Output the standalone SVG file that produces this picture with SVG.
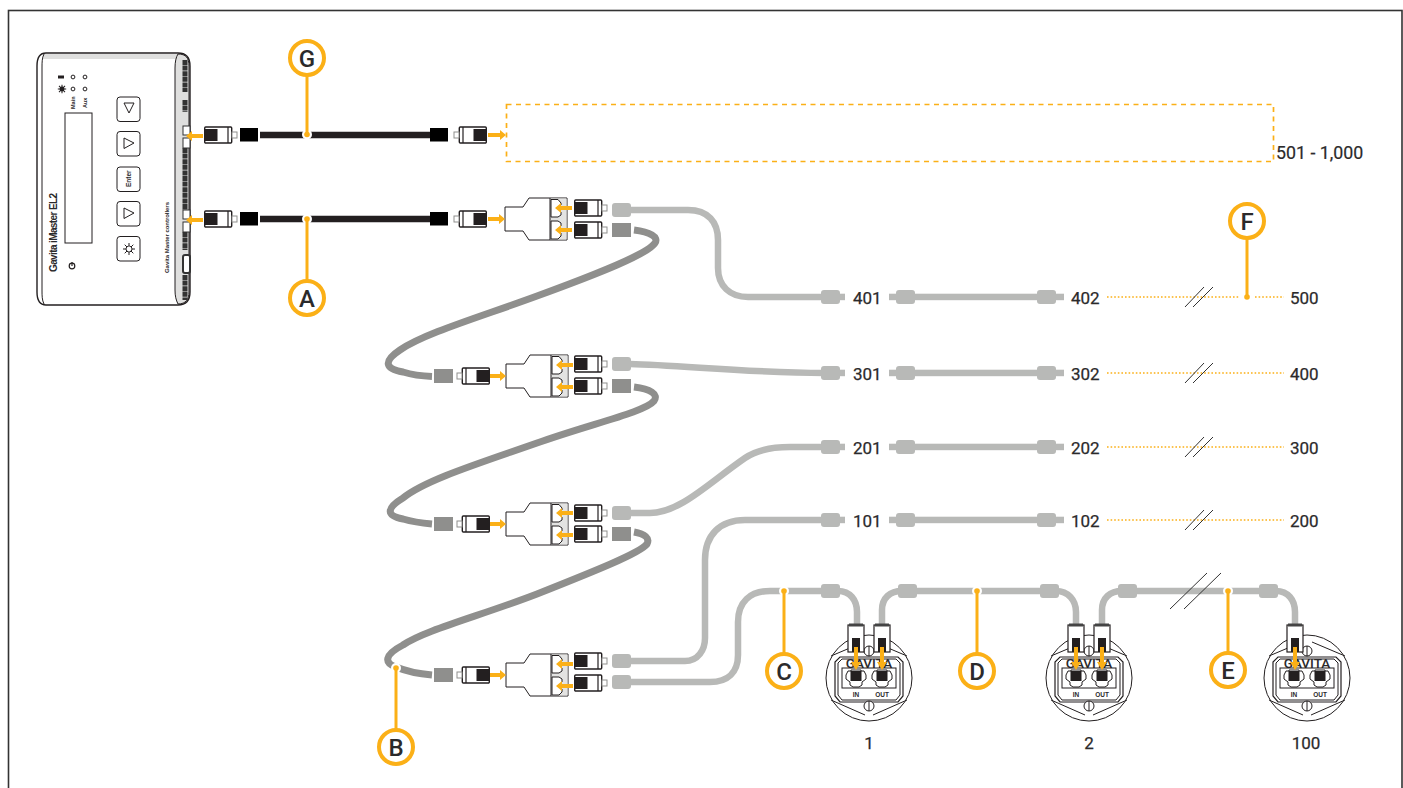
<svg xmlns="http://www.w3.org/2000/svg" width="1403" height="788" viewBox="0 0 1403 788">
<style>
text{font-family:"Roboto","Liberation Sans",sans-serif;fill:#2b2a2b}
.lbl{font-size:17px;font-weight:400;stroke:#2b2a2b;stroke-width:.25}
.num{font-size:17px;font-weight:400;text-anchor:middle;stroke:#2b2a2b;stroke-width:.25}
.co{font-size:24px;font-weight:500;text-anchor:middle}
.cab{fill:none;stroke-linecap:butt;stroke-width:6.5}
.lt{stroke:#b8b9b7}.dk{stroke:#8f8f8d;stroke-width:7}.bk{stroke:#231f20}
.or{fill:none;stroke:#fbb017;stroke-width:3}
.dot{fill:none;stroke:#fbb017;stroke-width:1.6;stroke-dasharray:1.6 2}
.sl{stroke:#333;stroke-width:1;fill:none}
.ring{fill:#fff;stroke:#fbb017;stroke-width:4}
.ln{fill:none;stroke:#231f20;stroke-width:1}
.ctl{font-family:"Liberation Sans",sans-serif;font-weight:700}
</style>
<defs>
<g id="arr"><path d="M0,-2H-11V-5L-17,0L-11,5V2H0Z" fill="#fbb017"/></g>
<g id="plug">
<rect x="0.7" y="-8" width="27" height="16" rx="1" fill="#fff" stroke="#231f20" stroke-width="1.400"/>
<rect x="1" y="-6" width="12.500" height="12" fill="#231f20"/>
<path d="M24,-8V8" stroke="#231f20" stroke-width="1.200"/>
<rect x="28" y="-3" width="5" height="6" fill="#fff" stroke="#8f8f8d"/>
</g>
<g id="splitter">
<path d="M0,-12H18L24,-21H62V21H24L18,12H0Z" fill="#fff" stroke="#231f20" stroke-width="1"/>
<rect x="45" y="-20.500" width="16.500" height="41" fill="#e3e3e2"/>
<path d="M45,-21V21" stroke="#231f20" stroke-width="1"/>
<path d="M46,-19.500H53L56,-16V-14L52,-11L56,-7V-4L53,-2H46Z" fill="#fff" stroke="#231f20"/>
<path d="M46,2H53L56,4V7L52,11L56,14V17L53,20H46Z" fill="#fff" stroke="#231f20"/>
<use href="#arr" x="67" y="-11"/><use href="#arr" x="67" y="11"/>
<path d="M-17,-2H-6V-5L0,0L-6,5V2H-17Z" fill="#fbb017"/>
</g>
<g id="jack"><path d="M-8,-8H-5V-9H5V-8H8L10,-4V0L6,3V6L3,8H-3L-6,6V3L-10,0V-4Z" fill="#fff" stroke="#231f20"/><rect x="-5.500" y="-8" width="11" height="10" fill="#231f20"/></g>
<g id="screw"><circle r="5" fill="#fff" stroke="#231f20"/><path d="M0,-5V5" stroke="#231f20"/></g>
<g id="lamp">
<circle r="43" fill="#fff" stroke="#231f20"/>
<path class="ln" d="M-38,-22L-5,-36M5,-36L38,-22M-38,22L-4,37M4,37L38,22"/>
<path d="M-29,-21H29L34,-16V18L29,24H-29L-34,18V-16Z" fill="#fff" stroke="#231f20" stroke-width="1.200"/>
<path class="ln" d="M-27,-19H27L31,-15V17L27,22H-27L-31,17V-15Z"/>
<text y="-10" text-anchor="middle" style="font-size:13.500px;font-weight:500">GAVITA</text>
<rect x="-27" y="-10" width="54" height="20" fill="#fff" stroke="#231f20"/>
<use href="#jack" x="-13" y="1"/><use href="#jack" x="13" y="1"/>
<text x="-13" y="19" text-anchor="middle" class="ctl" style="font-size:6.500px">IN</text>
<text x="13" y="19" text-anchor="middle" class="ctl" style="font-size:6.500px">OUT</text>
<use href="#screw" y="28"/>
</g>
<g id="dplug">
<rect x="-8" y="0" width="16" height="27" fill="#fff" stroke="#231f20" stroke-width="1.200"/>
<rect x="-7" y="-1.500" width="14" height="3" fill="#444"/>
<rect x="-4" y="13" width="8" height="14" fill="#231f20"/>
<path d="M-2,22V37H-5L0,45L5,37H2V22Z" fill="#fbb017"/>
</g>
<g id="blk"><rect x="0" y="-7" width="19" height="14" rx="3" fill="#b8b9b7"/></g>
<g id="dkb"><rect x="0" y="-7" width="19" height="14" fill="#8f8f8d"/></g>
<g id="stubs"><rect x="0" y="-3.300" width="26" height="6.500" fill="#b8b9b7"/></g>
<g id="sun"><circle r="3" fill="none" stroke="#231f20"/><path d="M-6,0H6M0,-6V6M-4.300,-4.300L4.300,4.300M-4.300,4.300L4.300,-4.300" stroke="#231f20"/><circle r="2.400" fill="#fff"/></g>
<g id="led"><circle r="1.900" fill="#fff" stroke="#231f20"/></g>
<g id="btn"><rect x="117" y="0" width="23" height="24.500" rx="3" fill="#fff" stroke="#231f20"/></g>
</defs>
<rect id="frame" x="8.500" y="10.500" width="1393.500" height="790" fill="#fff" stroke="#333" stroke-width="1.600"/>

<g id="connectors">
<path class="cab bk" d="M260,135H430"/>
<path class="cab bk" d="M260,219H430"/>
<path class="cab lt" d="M630,210H688C708,210 718,222 718,240V268C718,286 730,297 748,297H824"/>
<path class="cab lt" d="M630,364C680,365 750,373 824,373"/>
<path class="cab lt" d="M630,513H650C680,513 710,482 745,458C755,451 770,447 790,447H824"/>
<path class="cab lt" d="M630,661H685C698,661 705,650 705,638V560C705,535 720,520 745,520H824"/>
<path class="cab lt" d="M630,682H710C728,682 738,672 738,655V622C738,602 750,591 770,591H838C850,591 857,600 857,612V625"/>
<path class="cab lt" d="M882,625V610C882,598 890,591 902,591H1056C1068,591 1076,600 1076,612V625"/>
<path class="cab lt" d="M1102,625V610C1102,598 1110,591 1122,591H1276C1288,591 1295,600 1295,612V625"/>
<path class="cab dk" d="M634,230C650,232 659,237 655,243C648,254 600,273 537,296C480,317 425,333 400,350C382,362 386,369 403,372C413,375 420,376 432,376.500"/>
<path class="cab dk" d="M634,387C650,389 659,394 654,401C645,412 590,424 537,443C480,463 425,480 403,498C385,509 387,516 403,519C413,522 420,523 432,524"/>
<path class="cab dk" d="M634,532C645,534 650,538 647,544C640,553 595,571 537,594C480,616 425,630 403,645C384,655 384,663 396,667C408,672 420,674 432,675"/>
<path class="dot" d="M1107,297H1240M1255,297H1284M1107,373H1284M1107,447H1284M1107,520H1284"/>
<path class="sl" d="M1185,307L1204,287M1193,307L1213,287M1185,383L1204,363M1193,383L1213,363M1185,457L1204,437M1193,457L1213,437M1185,530L1204,510M1193,530L1213,510M1170,609L1207,573M1184,609L1221,573"/>
</g>

<g id="controller">
<path d="M46,53H178C186,53 190,58 190,66V292C190,300 186,305 178,305H46C40,305 37,300 37,292V66C37,58 40,53 46,53Z" fill="#fff" stroke="#231f20" stroke-width="1.400"/>
<path d="M44,54H178C177,56 176,57 176,59H43Z" fill="#dfdfde"/>
<path d="M178,54C186,54 189,58 189,66V292C189,299 186,304 178,304C176,300 175,296 175,290V68C175,62 176,57 178,54Z" fill="#dfdfde" stroke="#231f20"/>
<path class="ln" d="M44,54C42,58 42,62 42,68V290C42,296 42,300 44,304"/>
<path d="M185,148V210M185,60V92M185,100V112M185,232V250M185,275V300" stroke="#333" stroke-width="5" stroke-dasharray="5 .6" fill="none"/>
<rect x="183" y="126" width="7" height="9" fill="#fff" stroke="#333"/><rect x="183" y="138" width="7" height="10" fill="#fff" stroke="#333"/>
<rect x="183" y="210" width="7" height="9" fill="#fff" stroke="#333"/><rect x="183" y="222" width="7" height="10" fill="#fff" stroke="#333"/>
<rect x="183" y="255" width="7" height="18" rx="2" fill="#fff" stroke="#333" stroke-width="2"/>
<rect x="65" y="113" width="27" height="130" fill="#fff" stroke="#231f20"/>
<use href="#led" x="73" y="77"/><use href="#led" x="85" y="77"/><use href="#led" x="73" y="89"/><use href="#led" x="85" y="89"/>
<path d="M58,77H64" stroke="#231f20" stroke-width="3"/><g transform="translate(62,89) scale(.7)"><circle r="3.500" fill="#231f20"/><path d="M-6,0H6M0,-6V6M-4.300,-4.300L4.300,4.300M-4.300,4.300L4.300,-4.300" stroke="#231f20" stroke-width="1.500"/></g>
<text class="ctl" transform="translate(75,109) rotate(-90)" style="font-size:5.500px">Main</text>
<text class="ctl" transform="translate(87,108) rotate(-90)" style="font-size:5.500px">Aux</text>
<text class="ctl" transform="translate(57,272) rotate(-90)" textLength="79" style="font-size:10px">Gavita iMaster EL2</text>
<text class="ctl" transform="translate(169,273) rotate(-90)" textLength="71" style="font-size:6px">Gavita Master controllers</text>
<circle cx="72" cy="266" r="2.800" fill="none" stroke="#231f20" stroke-width="1.200"/><path d="M72,262V266" stroke="#231f20" stroke-width="1.200"/>
<use href="#btn" y="97"/><use href="#btn" y="131.500"/><use href="#btn" y="167"/><use href="#btn" y="201.500"/><use href="#btn" y="236.500"/>
<path class="ln" d="M124,103H134L129,113ZM124,138V148.500L134,143ZM124,208V218.500L134,213Z"/>
<text class="ctl" transform="translate(131,187) rotate(-90)" style="font-size:6.500px">Enter</text>
<use href="#sun" x="129" y="249"/>
<use href="#arr" x="203" y="136"/><use href="#arr" x="203" y="220"/>
</g>

<g id="link-top">
<use href="#plug" x="204" y="135"/><rect x="240" y="128" width="18" height="13.500" fill="#000"/>
<rect x="430" y="128" width="18" height="13.500" fill="#000"/><use href="#plug" transform="translate(487,135) scale(-1,1)"/>
<path d="M488,133H500V130L506,135L500,140V137H488Z" fill="#fbb017"/>
</g>
<g id="link-a">
<use href="#plug" x="204" y="219"/><rect x="240" y="212" width="18" height="13.500" fill="#000"/>
<rect x="430" y="212" width="18" height="13.500" fill="#000"/><use href="#plug" transform="translate(487,219) scale(-1,1)"/>
</g>
<rect id="zone-501" x="506.500" y="104.500" width="767" height="57" fill="none" stroke="#fbb017" stroke-width="1.700" stroke-dasharray="5 4.500"/>
<text id="lbl-501" x="1276" y="159" style="font-size:17.800px;stroke:#2b2a2b;stroke-width:.2">501 - 1,000</text>

<g id="splitter-1">
<use href="#splitter" x="505" y="219"/>
<use href="#plug" x="574" y="208"/><use href="#plug" x="574" y="230"/>
<use href="#blk" x="612" y="210"/><use href="#dkb" x="612" y="230"/>
</g>
<g id="splitter-2">
<use href="#splitter" x="506" y="376"/>
<use href="#plug" transform="translate(490,376) scale(-1,1)"/><use href="#dkb" x="434" y="376"/>
<use href="#plug" x="574" y="364"/><use href="#plug" x="574" y="386"/>
<use href="#blk" x="612" y="364"/><use href="#dkb" x="612" y="386"/>
</g>
<g id="splitter-3">
<use href="#splitter" x="506" y="524"/>
<use href="#plug" transform="translate(490,524) scale(-1,1)"/><use href="#dkb" x="434" y="524"/>
<use href="#plug" x="574" y="513"/><use href="#plug" x="574" y="534"/>
<use href="#blk" x="612" y="513"/><use href="#dkb" x="612" y="534"/>
</g>
<g id="splitter-4">
<use href="#splitter" x="506" y="675"/>
<use href="#plug" transform="translate(490,675) scale(-1,1)"/><use href="#dkb" x="434" y="675"/>
<use href="#plug" x="574" y="661"/><use href="#plug" x="574" y="683"/>
<use href="#blk" x="612" y="661"/><use href="#blk" x="612" y="682"/>
</g>

<g id="row-400s">
<use href="#blk" x="821" y="297"/><rect x="838" y="293.700" width="7" height="6.500" fill="#b8b9b7"/><text class="lbl" x="853" y="304">401</text>
<use href="#stubs" x="889" y="297"/><use href="#blk" x="896" y="297"/><rect x="910" y="293.700" width="130" height="6.500" fill="#b8b9b7"/><use href="#blk" x="1037" y="297"/><rect x="1050" y="293.700" width="14" height="6.500" fill="#b8b9b7"/><text class="lbl" x="1071" y="304">402</text>
<text class="lbl" x="1290" y="304">500</text>
</g>
<g id="row-300s">
<use href="#blk" x="821" y="373"/><rect x="838" y="369.700" width="7" height="6.500" fill="#b8b9b7"/><text class="lbl" x="853" y="380">301</text>
<use href="#stubs" x="889" y="373"/><use href="#blk" x="896" y="373"/><rect x="910" y="369.700" width="130" height="6.500" fill="#b8b9b7"/><use href="#blk" x="1037" y="373"/><rect x="1050" y="369.700" width="14" height="6.500" fill="#b8b9b7"/><text class="lbl" x="1071" y="380">302</text>
<text class="lbl" x="1290" y="380">400</text>
</g>
<g id="row-200s">
<use href="#blk" x="821" y="447"/><rect x="838" y="443.700" width="7" height="6.500" fill="#b8b9b7"/><text class="lbl" x="853" y="454">201</text>
<use href="#stubs" x="889" y="447"/><use href="#blk" x="896" y="447"/><rect x="910" y="443.700" width="130" height="6.500" fill="#b8b9b7"/><use href="#blk" x="1037" y="447"/><rect x="1050" y="443.700" width="14" height="6.500" fill="#b8b9b7"/><text class="lbl" x="1071" y="454">202</text>
<text class="lbl" x="1290" y="454">300</text>
</g>
<g id="row-100s">
<use href="#blk" x="821" y="520"/><rect x="838" y="516.700" width="7" height="6.500" fill="#b8b9b7"/><text class="lbl" x="853" y="527">101</text>
<use href="#stubs" x="889" y="520"/><use href="#blk" x="896" y="520"/><rect x="910" y="516.700" width="130" height="6.500" fill="#b8b9b7"/><use href="#blk" x="1037" y="520"/><rect x="1050" y="516.700" width="14" height="6.500" fill="#b8b9b7"/><text class="lbl" x="1071" y="527">102</text>
<text class="lbl" x="1290" y="527">200</text>
</g>

<g id="lamp-1">
<use href="#lamp" x="869" y="678"/>
<use href="#screw" x="869" y="651"/>
<use href="#blk" x="821" y="591"/><use href="#blk" x="898" y="591"/>
<use href="#dplug" x="856" y="625"/><use href="#dplug" x="882" y="625"/>
<text class="num" x="869" y="749">1</text>
</g>
<g id="lamp-2">
<use href="#lamp" x="1089" y="678"/>
<use href="#screw" x="1089" y="651"/>
<use href="#blk" x="1040" y="591"/><use href="#blk" x="1118" y="591"/>
<use href="#dplug" x="1076" y="625"/><use href="#dplug" x="1102" y="625"/>
<text class="num" x="1089" y="749">2</text>
</g>
<g id="lamp-100">
<use href="#lamp" x="1307" y="678"/>
<use href="#screw" x="1307" y="651"/>
<use href="#blk" x="1259" y="591"/>
<use href="#dplug" x="1295" y="625"/>
<text class="num" x="1306" y="749">100</text>
</g>

<g id="callout-g"><circle cx="307" cy="134.500" r="5" fill="#fff"/><path class="or" d="M307,76V134"/><circle cx="307" cy="134.500" r="2.800" fill="#fbb017"/><circle class="ring" cx="307" cy="58" r="17"/><text class="co" x="307" y="66.500">G</text></g>
<g id="callout-a"><circle cx="307" cy="219" r="5" fill="#fff"/><path class="or" d="M307,280V219"/><circle cx="307" cy="219" r="2.800" fill="#fbb017"/><circle class="ring" cx="307" cy="298" r="17"/><text class="co" x="307" y="306.500">A</text></g>
<g id="callout-b"><circle cx="396" cy="668" r="5" fill="#fff"/><path class="or" d="M396,729V668"/><circle cx="396" cy="668" r="2.800" fill="#fbb017"/><circle class="ring" cx="396" cy="747" r="17"/><text class="co" x="396" y="755.500">B</text></g>
<g id="callout-c"><circle cx="784" cy="591" r="5" fill="#fff"/><path class="or" d="M784,653V591"/><circle cx="784" cy="591" r="2.800" fill="#fbb017"/><circle class="ring" cx="784" cy="671" r="17"/><text class="co" x="784" y="679.500">C</text></g>
<g id="callout-d"><circle cx="977" cy="591" r="5" fill="#fff"/><path class="or" d="M977,653V591"/><circle cx="977" cy="591" r="2.800" fill="#fbb017"/><circle class="ring" cx="977" cy="671" r="17"/><text class="co" x="977" y="679.500">D</text></g>
<g id="callout-e"><circle cx="1228" cy="591" r="5" fill="#fff"/><path class="or" d="M1228,652V591"/><circle cx="1228" cy="591" r="2.800" fill="#fbb017"/><circle class="ring" cx="1228" cy="670" r="17"/><text class="co" x="1228" y="678.500">E</text></g>
<g id="callout-f"><path class="or" d="M1247,239V297"/><circle cx="1247" cy="297" r="2.800" fill="#fbb017"/><circle class="ring" cx="1247" cy="221" r="17"/><text class="co" x="1247" y="229.500">F</text></g>
</svg>
